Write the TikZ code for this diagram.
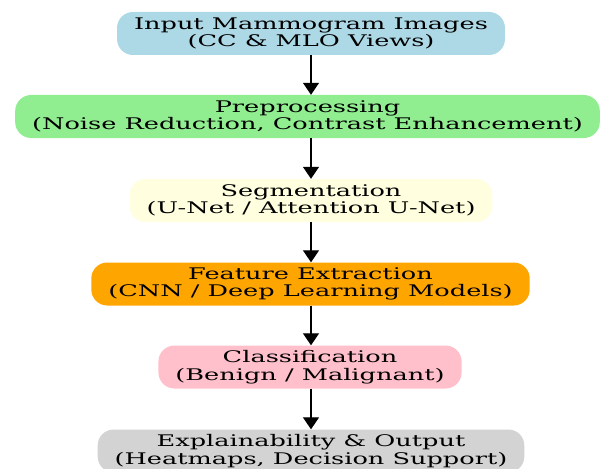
\documentclass[tikz,border=0pt]{standalone}
\usepackage{fontspec}
\setmainfont{DejaVu Serif}[FakeStretch=1.6]
\usepackage{tikz}
\usetikzlibrary{arrows.meta,positioning}

\definecolor{inblue}{HTML}{ADD8E6}
\definecolor{prepgreen}{HTML}{90EE90}
\definecolor{segyellow}{HTML}{FFFFE0}
\definecolor{featorange}{HTML}{FFA500}
\definecolor{clspink}{HTML}{FFC0CB}
\definecolor{outgray}{HTML}{D3D3D3}

\tikzset{
    stage/.style={rounded corners=16pt, align=center, minimum height=43pt,
        inner xsep=17pt, inner ysep=3pt, font=\fontsize{16}{17.5}\selectfont},
    flow/.style={-{Triangle[length=12pt,width=16pt]}, line width=1.3pt}
}

\begin{document}
\begin{tikzpicture}[x=1pt, y=-1pt]
    \useasboundingbox (0,0) rectangle (601,468);

    % stadi della pipeline
    \node[stage, fill=inblue] (input) at (311,33.5) {Input Mammogram Images\\(CC \& MLO Views)};
    \node[stage, fill=prepgreen] (prep) at (307.5,116.5) {Preprocessing\\(Noise Reduction, Contrast Enhancement)};
    \node[stage, fill=segyellow] (seg) at (311,200.5) {Segmentation\\(U-Net / Attention U-Net)};
    \node[stage, fill=featorange] (feat) at (310.5,284) {Feature Extraction\\(CNN / Deep Learning Models)};
    \node[stage, fill=clspink] (cls) at (310,367) {Classification\\(Benign / Malignant)};
    \node[stage, fill=outgray] (out) at (311,451) {Explainability \& Output\\(Heatmaps, Decision Support)};

    % frecce
    \draw[flow] (input.south) -- (input.south |- prep.north);
    \draw[flow] (input.south |- prep.south) -- (input.south |- seg.north);
    \draw[flow] (input.south |- seg.south) -- (input.south |- feat.north);
    \draw[flow] (input.south |- feat.south) -- (input.south |- cls.north);
    \draw[flow] (input.south |- cls.south) -- (input.south |- out.north);
\end{tikzpicture}
\end{document}
